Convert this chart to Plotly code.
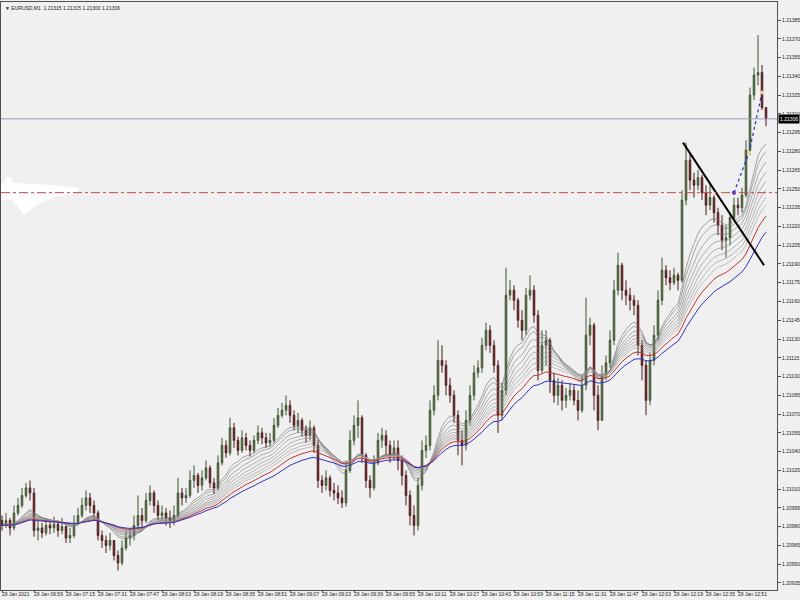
import plotly.graph_objects as go

# ---------------- data (EURUSD M1, each candle = 2 minutes of the screen) ----------------
closes = [
    1.20981, 1.20985, 1.20979, 1.20991, 1.20997, 1.21005, 1.21011, 1.21007, 1.20977, 1.20979,
    1.20975, 1.20981, 1.20979, 1.20982, 1.20977, 1.20980, 1.20971, 1.20973, 1.20983, 1.20989,
    1.20997, 1.21003, 1.20997, 1.20991, 1.20973, 1.20969, 1.20965, 1.20969, 1.20957, 1.20951,
    1.20963, 1.20971, 1.20973, 1.20981, 1.20989, 1.20985, 1.21001, 1.21007, 1.20997, 1.20989,
    1.20991, 1.20987, 1.20985, 1.20989, 1.21007, 1.21003, 1.21005, 1.21017, 1.21021, 1.21013,
    1.21019, 1.21027, 1.21015, 1.21011, 1.21031, 1.21045, 1.21039, 1.21059, 1.21049, 1.21041,
    1.21051, 1.21045, 1.21041, 1.21049, 1.21055, 1.21051, 1.21047, 1.21049, 1.21061, 1.21069,
    1.21073, 1.21077, 1.21069, 1.21061, 1.21065, 1.21057, 1.21053, 1.21059, 1.21045, 1.21017,
    1.21013, 1.21019, 1.21009, 1.21007, 1.21003, 1.20999, 1.21025, 1.21049, 1.21061, 1.21067,
    1.21037, 1.21017, 1.21011, 1.21031, 1.21049, 1.21053, 1.21045, 1.21037, 1.21043, 1.21033,
    1.21021, 1.21005, 1.20989, 1.20981, 1.21013, 1.21041, 1.21045, 1.21073, 1.21085, 1.21113,
    1.21109, 1.21093, 1.21085, 1.21069, 1.21049, 1.21045, 1.21065, 1.21085, 1.21103, 1.21107,
    1.21125, 1.21137, 1.21125, 1.21109, 1.21069, 1.21089, 1.21165, 1.21169, 1.21161, 1.21145,
    1.21137, 1.21165, 1.21169, 1.21149, 1.21105, 1.21125, 1.21129, 1.21097, 1.21085, 1.21093,
    1.21081, 1.21085, 1.21089, 1.21081, 1.21073, 1.21093, 1.21133, 1.21141, 1.21085, 1.21065,
    1.21101, 1.21111, 1.21129, 1.21169, 1.21189, 1.21169, 1.21165, 1.21161, 1.21157, 1.21125,
    1.21109, 1.21081, 1.21113, 1.21133, 1.21161, 1.21185, 1.21179, 1.21175, 1.21181, 1.21177,
    1.21241, 1.21273, 1.21257, 1.21253, 1.21259, 1.21247, 1.21237, 1.21243, 1.21231, 1.21221,
    1.21209, 1.21211, 1.21227, 1.21237, 1.21235, 1.21245, 1.21281, 1.21325, 1.21341, 1.21343,
    1.21315, 1.21306,
]
highs = [
    1.20989, 1.20991, 1.20987, 1.20997, 1.21003, 1.21011, 1.21015, 1.21017, 1.21011, 1.20985,
    1.20983, 1.20987, 1.20985, 1.20988, 1.20985, 1.20987, 1.20981, 1.20979, 1.20989, 1.20995,
    1.21003, 1.21009, 1.21007, 1.21001, 1.20993, 1.20977, 1.20973, 1.20975, 1.20969, 1.20961,
    1.20969, 1.20977, 1.20979, 1.20989, 1.21005, 1.20995, 1.21007, 1.21013, 1.21009, 1.21001,
    1.20997, 1.20995, 1.20993, 1.20997, 1.21019, 1.21011, 1.21011, 1.21025, 1.21029, 1.21023,
    1.21025, 1.21033, 1.21029, 1.21019, 1.21037, 1.21051, 1.21049, 1.21067, 1.21063, 1.21052,
    1.21057, 1.21055, 1.21049, 1.21053, 1.21061, 1.21059, 1.21055, 1.21055, 1.21067, 1.21075,
    1.21079, 1.21085, 1.21081, 1.21073, 1.21071, 1.21067, 1.21061, 1.21065, 1.21061, 1.21049,
    1.21021, 1.21025, 1.21021, 1.21015, 1.21013, 1.21009, 1.21033, 1.21057, 1.21069, 1.21081,
    1.21069, 1.21039, 1.21021, 1.21037, 1.21055, 1.21059, 1.21057, 1.21049, 1.21049, 1.21049,
    1.21037, 1.21025, 1.21009, 1.20997, 1.21019, 1.21049, 1.21053, 1.21081, 1.21093, 1.21129,
    1.21125, 1.21113, 1.21099, 1.21089, 1.21073, 1.21057, 1.21073, 1.21093, 1.21109, 1.21113,
    1.21131, 1.21143, 1.21141, 1.21129, 1.21113, 1.21095, 1.21187, 1.21177, 1.21173, 1.21163,
    1.21153, 1.21171, 1.21181, 1.21173, 1.21153, 1.21137, 1.21137, 1.21131, 1.21103, 1.21099,
    1.21097, 1.21091, 1.21095, 1.21093, 1.21089, 1.21101, 1.21163, 1.21147, 1.21143, 1.21093,
    1.21109, 1.21117, 1.21137, 1.21177, 1.21199, 1.21191, 1.21177, 1.21171, 1.21165, 1.21161,
    1.21129, 1.21113, 1.21119, 1.21141, 1.21169, 1.21195, 1.21189, 1.21185, 1.21187, 1.21183,
    1.21249, 1.21287, 1.21279, 1.21263, 1.21265, 1.21261, 1.21253, 1.21255, 1.21245, 1.21235,
    1.21229, 1.21221, 1.21231, 1.21243, 1.21243, 1.21251, 1.21289, 1.21331, 1.21347, 1.21373,
    1.21349, 1.21315,
]
lows = [
    1.20977, 1.20979, 1.20973, 1.20977, 1.20989, 1.20995, 1.21003, 1.21001, 1.20972, 1.20969,
    1.20971, 1.20973, 1.20974, 1.20975, 1.20972, 1.20974, 1.20967, 1.20967, 1.20971, 1.20981,
    1.20987, 1.20993, 1.20991, 1.20987, 1.20969, 1.20963, 1.20959, 1.20961, 1.20953, 1.20945,
    1.20949, 1.20961, 1.20965, 1.20969, 1.20979, 1.20979, 1.20983, 1.20997, 1.20991, 1.20985,
    1.20985, 1.20981, 1.20979, 1.20981, 1.20987, 1.20997, 1.20999, 1.21003, 1.21011, 1.21007,
    1.21009, 1.21017, 1.21011, 1.21006, 1.21009, 1.21029, 1.21035, 1.21037, 1.21043, 1.21037,
    1.21039, 1.21041, 1.21036, 1.21039, 1.21046, 1.21046, 1.21043, 1.21044, 1.21047, 1.21059,
    1.21067, 1.21069, 1.21063, 1.21057, 1.21055, 1.21052, 1.21047, 1.21049, 1.21039, 1.21011,
    1.21007, 1.21009, 1.21004, 1.21001, 1.20998, 1.20995, 1.20996, 1.21023, 1.21045, 1.21051,
    1.21031, 1.21011, 1.21003, 1.21009, 1.21029, 1.21043, 1.21037, 1.21031, 1.21033, 1.21025,
    1.21013, 1.20997, 1.20981, 1.20973, 1.20977, 1.21009, 1.21035, 1.21041, 1.21069, 1.21081,
    1.21103, 1.21085, 1.21079, 1.21063, 1.21037, 1.21029, 1.21041, 1.21061, 1.21081, 1.21099,
    1.21103, 1.21121, 1.21119, 1.21103, 1.21055, 1.21065, 1.21085, 1.21161, 1.21153, 1.21139,
    1.21129, 1.21133, 1.21161, 1.21143, 1.21097, 1.21103, 1.21109, 1.21087, 1.21079, 1.21077,
    1.21073, 1.21075, 1.21081, 1.21077, 1.21065, 1.21071, 1.21089, 1.21125, 1.21073, 1.21057,
    1.21065, 1.21097, 1.21107, 1.21125, 1.21165, 1.21161, 1.21157, 1.21153, 1.21149, 1.21117,
    1.21097, 1.21069, 1.21077, 1.21109, 1.21129, 1.21157, 1.21173, 1.21169, 1.21173, 1.21169,
    1.21175, 1.21237, 1.21249, 1.21243, 1.21249, 1.21241, 1.21229, 1.21233, 1.21223, 1.21213,
    1.21201, 1.21195, 1.21205, 1.21225, 1.21229, 1.21231, 1.21243, 1.21277, 1.21321, 1.21333,
    1.21313, 1.21300,
]
first_open = 1.20985
opens = [first_open] + closes[:-1]
bars = list(range(len(closes)))

time_ticks = list(range(0, 185, 8))
time_labels = ["29 Jan 2021", "29 Jan 06:59", "29 Jan 07:15", "29 Jan 07:31", "29 Jan 07:47",
               "29 Jan 08:03", "29 Jan 08:19", "29 Jan 08:35", "29 Jan 08:51", "29 Jan 09:07",
               "29 Jan 09:23", "29 Jan 09:39", "29 Jan 09:55", "29 Jan 10:11", "29 Jan 10:27",
               "29 Jan 10:43", "29 Jan 10:59", "29 Jan 11:15", "29 Jan 11:31", "29 Jan 11:47",
               "29 Jan 12:03", "29 Jan 12:19", "29 Jan 12:35", "29 Jan 12:51"]
price_ticks = [round(1.20935 + 0.00015 * k, 5) for k in range(31)]

gray_periods = [12, 14, 17, 20, 23, 26, 29, 32]
red_period = 37
blue_period = 45

bid_price = 1.21306
level_price = 1.21247
header = "\u25bc EURUSD,M1  1.21315 1.21315 1.21300 1.21306"

trend_bars = [170.25, 190.5]
trend_prices = [1.21287, 1.21189]
arrow_bars = [183.0, 186.75, 190.0]
arrow_prices = [1.21247, 1.21279, 1.21327]
scribble_bars = [-0.25, 1.0, 1.5, 2.25, 7.0, 13.25, 19.0, 13.25, 8.25, 5.5, 4.0, 2.5, 0.0, -0.25]
scribble_prices = [1.21250, 1.21254, 1.21259, 1.21253, 1.21252, 1.21251, 1.21249, 1.21246,
                   1.21239, 1.21232, 1.21239, 1.21244, 1.21243, 1.21250]


def ema(vals, n):
    a = 2.0 / (n + 1)
    out = [vals[0]]
    for v in vals[1:]:
        out.append(out[-1] + a * (v - out[-1]))
    return out


BG = "#f0f0f0"
FONT = "Liberation Sans"
TXT = "#222222"

fig = go.Figure()
fig.add_trace(go.Candlestick(
    x=bars, open=opens, high=highs, low=lows, close=closes,
    increasing=dict(line=dict(color="#3f5530", width=1), fillcolor="#647e4e"),
    decreasing=dict(line=dict(color="#4d1a1a", width=1), fillcolor="#862c2c"),
    whiskerwidth=0, showlegend=False, hoverinfo="skip",
))

grays = ["#707070", "#767676", "#7c7c7c", "#828282", "#888888", "#8e8e8e", "#949494", "#9a9a9a"]
for p, c in zip(gray_periods, grays):
    fig.add_trace(go.Scatter(x=bars, y=ema(closes, p), mode="lines",
                             line=dict(color=c, width=0.6), showlegend=False, hoverinfo="skip"))
fig.add_trace(go.Scatter(x=bars, y=ema(closes, red_period), mode="lines",
                         line=dict(color="#c83232", width=1), showlegend=False, hoverinfo="skip"))
fig.add_trace(go.Scatter(x=bars, y=ema(closes, blue_period), mode="lines",
                         line=dict(color="#3232c8", width=1), showlegend=False, hoverinfo="skip"))

# horizontal lines
fig.add_hline(y=bid_price, line=dict(color="#9a9ac4", width=1))
fig.add_hline(y=level_price, line=dict(color="#c84848", width=1, dash="dashdot"))

# white scribble
fig.add_trace(go.Scatter(x=scribble_bars, y=scribble_prices, mode="lines", fill="toself",
                         fillcolor="white", line=dict(color="white", width=5),
                         showlegend=False, hoverinfo="skip"))
# trend line
fig.add_trace(go.Scatter(x=trend_bars, y=trend_prices, mode="lines",
                         line=dict(color="black", width=2), showlegend=False, hoverinfo="skip"))
# dotted blue path
fig.add_trace(go.Scatter(x=arrow_bars, y=arrow_prices, mode="lines",
                         line=dict(color="#2a2ad0", width=1.2, dash="dot"),
                         showlegend=False, hoverinfo="skip"))
fig.add_trace(go.Scatter(x=arrow_bars[:1], y=arrow_prices[:1], mode="markers",
                         marker=dict(color="#2a2ad0", size=4), showlegend=False, hoverinfo="skip"))
fig.add_trace(go.Scatter(x=arrow_bars[1:], y=arrow_prices[1:], mode="markers",
                         marker=dict(color="#e6d89a", size=4), showlegend=False, hoverinfo="skip"))

annotations = [
    dict(x=0, y=1, xref="paper", yref="paper", xanchor="left", yanchor="top",
         xshift=2, yshift=-1, text=header, showarrow=False,
         font=dict(family=FONT, size=5, color=TXT)),
    dict(x=1, y=bid_price, xref="paper", yref="y", xanchor="left", yanchor="middle",
         xshift=1, text="1.21306", showarrow=False, bgcolor="black",
         font=dict(family=FONT, size=5, color="white"), borderpad=1),
]
for tv, tt in zip(time_ticks, time_labels):
    annotations.append(dict(x=tv, y=0, xref="x", yref="paper", xanchor="left", yanchor="top",
                            xshift=-1, yshift=0, text=tt, showarrow=False, borderpad=0,
                            font=dict(family=FONT, size=5, color=TXT)))

fig.update_layout(
    width=800, height=600,
    margin=dict(l=1, r=23, t=2, b=10),
    paper_bgcolor=BG, plot_bgcolor=BG,
    font=dict(family=FONT, size=5, color=TXT),
    showlegend=False,
    boxgap=0.45,
    xaxis=dict(range=[-0.25, 193.75], showgrid=False, zeroline=False,
               rangeslider=dict(visible=False),
               showline=True, mirror=True, linecolor="#505050", linewidth=1,
               tickvals=time_ticks, ticks="outside", ticklen=2, tickcolor="#505050",
               showticklabels=False, automargin=False),
    yaxis=dict(range=[1.209294, 1.213994], side="right", showgrid=False, zeroline=False,
               showline=True, mirror=True, linecolor="#505050", linewidth=1,
               tickvals=price_ticks, tickformat=".5f", ticks="outside", ticklen=3,
               tickcolor="#505050", tickfont=dict(family=FONT, size=5, color=TXT),
               automargin=False),
    annotations=annotations,
)

fig.write_html("out.html", config={"displayModeBar": False, "staticPlot": True},
               post_script="document.body.style.margin='0px';document.body.style.padding='0px';"
                           "document.body.style.overflow='hidden';")
